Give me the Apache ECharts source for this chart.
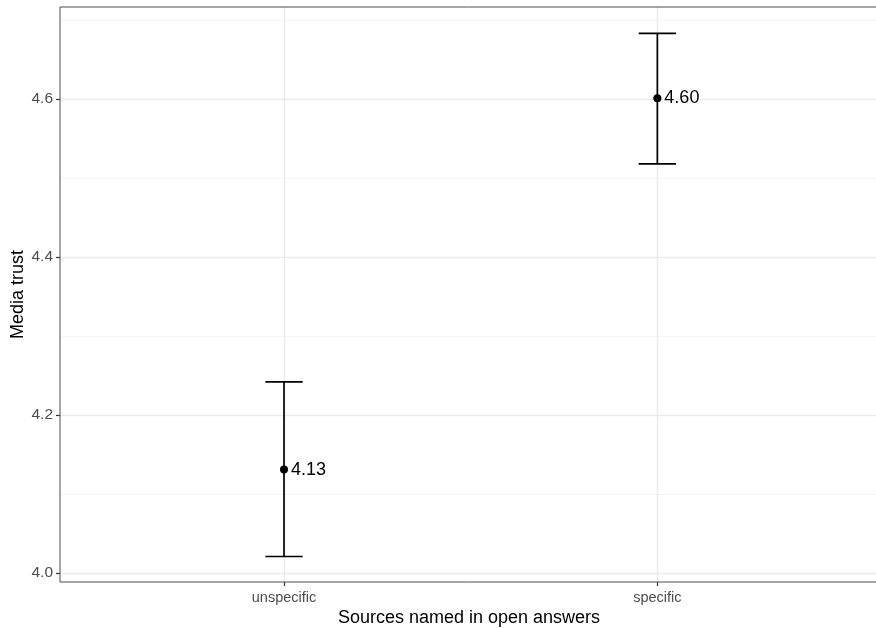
<!DOCTYPE html>
<html>
<head>
<meta charset="utf-8">
<script src="https://cdn.jsdelivr.net/npm/echarts@6/dist/echarts.min.js"></script>
<style>html,body{margin:0;padding:0;background:#fff}#c{width:876px;height:628px}</style>
</head>
<body>
<div id="c"></div>
<script>
var categories = ['unspecific', 'specific'];
var means = [4.131, 4.601];
var lowerCI = [4.021, 4.518];
var upperCI = [4.242, 4.683];
var yMajorTicks = [4.0, 4.2, 4.4, 4.6];
var yMinorTicks = [4.1, 4.3, 4.5, 4.7];
var xTicks = [1, 2];

var FONT = "'Liberation Sans', Arial, Helvetica, sans-serif";
var chart = echarts.init(document.getElementById('c'), null, {renderer: 'canvas'});

var errData = categories.map(function (c, i) { return [i + 1, lowerCI[i], upperCI[i]]; });
var pointData = categories.map(function (c, i) { return [i + 1, means[i]]; });

var gridMark = [];
yMinorTicks.forEach(function (v) { gridMark.push({yAxis: v, lineStyle: {color: '#f2f2f2', width: 0.8, type: 'solid'}}); });
yMajorTicks.forEach(function (v) { gridMark.push({yAxis: v, lineStyle: {color: '#ebebeb', width: 1.4, type: 'solid'}}); });
xTicks.forEach(function (v) { gridMark.push({xAxis: v, lineStyle: {color: '#ebebeb', width: 1.4, type: 'solid'}}); });

chart.setOption({
  animation: false,
  backgroundColor: '#ffffff',
  grid: {left: 60, right: -2, top: 7, bottom: 46, outerBoundsMode: 'none', containLabel: false,
    show: true, borderColor: '#4d4d4d', borderWidth: 1, backgroundColor: 'transparent', z: 10},
  xAxis: {
    type: 'value', min: 0.4, max: 2.591,
    name: 'Sources named in open answers', nameLocation: 'middle', nameGap: 27, nameMoveOverlap: false,
    nameTextStyle: {color: '#000', fontSize: 18, fontFamily: FONT},
    axisLine: {show: false},
    splitLine: {show: false},
    axisTick: {show: true, customValues: xTicks, length: 4, lineStyle: {color: '#333', width: 1.2}},
    axisLabel: {customValues: xTicks, color: '#4d4d4d', fontSize: 14.5, fontFamily: FONT, margin: 8,
      formatter: function (v) { return categories[Math.round(v) - 1] || ''; }}
  },
  yAxis: {
    type: 'value', min: 3.9887, max: 4.7165,
    name: 'Media trust', nameLocation: 'middle', nameGap: 33, nameRotate: 90, nameMoveOverlap: false,
    nameTextStyle: {color: '#000', fontSize: 18, fontFamily: FONT},
    axisLine: {show: false},
    splitLine: {show: false},
    axisTick: {show: true, customValues: yMajorTicks, length: 4, lineStyle: {color: '#333', width: 1.2}},
    axisLabel: {customValues: yMajorTicks, color: '#4d4d4d', fontSize: 15.5, fontFamily: FONT, margin: 7,
      formatter: function (v) { return v.toFixed(1); }}
  },
  series: [
    {
      type: 'line', data: [], z: 0, silent: true,
      markLine: {z: 0, silent: true, symbol: ['none', 'none'], label: {show: false}, animation: false, data: gridMark}
    },
    {
      type: 'custom', z: 3, data: errData,
      renderItem: function (params, api) {
        var x = api.value(0);
        var lo = api.coord([x, api.value(1)]);
        var hi = api.coord([x, api.value(2)]);
        var l = api.coord([x - 0.05, api.value(1)]);
        var r = api.coord([x + 0.05, api.value(1)]);
        var hw = (r[0] - l[0]) / 2;
        var style = {stroke: '#000', lineWidth: 1.7, fill: null};
        return {type: 'group', children: [
          {type: 'line', shape: {x1: lo[0], y1: lo[1], x2: hi[0], y2: hi[1]}, style: style},
          {type: 'line', shape: {x1: lo[0] - hw, y1: lo[1], x2: lo[0] + hw, y2: lo[1]}, style: style},
          {type: 'line', shape: {x1: hi[0] - hw, y1: hi[1], x2: hi[0] + hw, y2: hi[1]}, style: style}
        ]};
      }
    },
    {
      type: 'scatter', z: 4, data: pointData, symbol: 'circle', symbolSize: 8,
      itemStyle: {color: '#000', opacity: 1},
      label: {show: true, position: 'right', distance: 3, color: '#000', fontSize: 18, fontFamily: FONT,
        formatter: function (p) { return p.value[1].toFixed(2); }}
    }
  ]
});
</script>
</body>
</html>
